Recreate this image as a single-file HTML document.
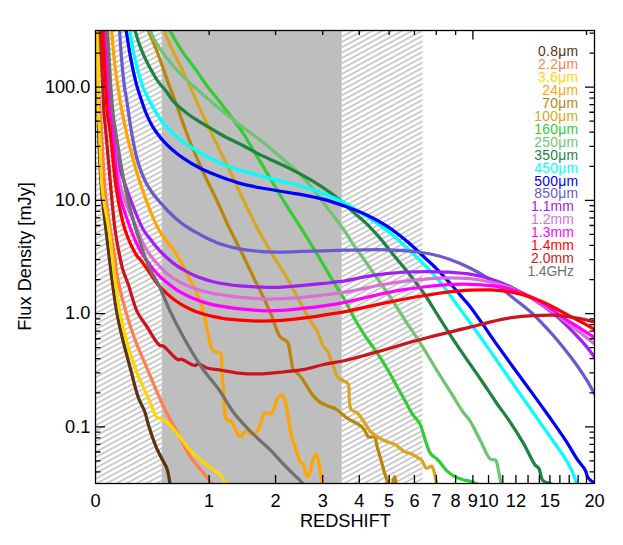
<!DOCTYPE html>
<html><head><meta charset="utf-8"><title>Flux density vs redshift</title>
<style>html,body{margin:0;padding:0;background:#fff}body{width:623px;height:545px;overflow:hidden;font-family:"Liberation Sans",sans-serif}svg{display:block}</style>
</head><body>
<svg width="623" height="545" viewBox="0 0 623 545">
<defs>
<pattern id="h" patternUnits="userSpaceOnUse" width="40" height="4.695" patternTransform="translate(0,4.87) rotate(-28.32)"><line x1="0" y1="2.347" x2="40" y2="2.347" stroke="#b6b6b6" stroke-width="1.25"/></pattern>
<clipPath id="c"><rect x="95.5" y="30.5" width="499.0" height="453.0"/></clipPath>
</defs>
<rect width="623" height="545" fill="#fff"/>
<rect x="95.5" y="30.5" width="66.20" height="453.0" fill="url(#h)"/>
<rect x="341.70" y="30.5" width="80.80" height="453.0" fill="url(#h)"/>
<rect x="161.70" y="30.5" width="180.00" height="453.0" fill="#bebebe"/>
<g clip-path="url(#c)" fill="none" stroke-linejoin="round" stroke-linecap="butt">
<path d="M96.3,25.0 C96.4,26.7 96.4,27.4 96.5,30.0 C96.7,38.6 97.1,67.3 97.5,86.0 C97.9,104.9 98.3,124.9 99.0,143.0 C99.7,159.4 100.3,175.0 101.5,190.0 C102.6,203.9 104.6,218.1 106.0,230.0 C107.1,239.6 108.0,247.2 109.1,256.0 C110.2,265.2 111.3,274.8 112.6,284.2 C113.9,293.6 115.1,303.0 116.8,312.4 C118.5,321.8 120.7,331.2 123.0,340.6 C125.3,350.1 128.0,359.5 130.5,369.0 C133.1,378.5 135.5,389.8 138.3,397.5 C140.3,403.0 142.9,406.5 144.6,411.2 C146.4,416.0 147.1,420.7 148.8,426.0 C150.8,432.4 153.5,440.8 156.2,447.1 C158.5,452.5 161.6,458.0 163.6,461.9 C164.9,464.4 165.9,465.5 166.8,468.2 C168.2,472.2 169.5,480.5 170.0,484.0 C170.2,485.8 170.2,486.7 170.3,488.0" stroke="#5a3310" stroke-width="3.25"/>
<path d="M96.8,25.0 C96.9,26.7 96.9,27.4 97.0,30.0 C97.3,38.6 97.5,68.5 98.3,86.0 C99.0,101.6 100.4,114.2 101.4,130.0 C102.6,148.4 103.4,172.0 105.1,190.0 C106.5,204.7 108.6,218.1 110.4,230.0 C111.8,239.6 113.7,248.7 114.7,256.0 C115.5,261.4 115.6,265.3 116.3,270.0 C117.0,274.7 117.6,278.7 118.8,284.2 C120.5,292.0 123.3,303.0 126.1,312.4 C128.9,321.8 131.9,331.3 135.4,340.6 C139.0,350.1 143.6,360.2 147.3,369.0 C150.5,376.6 153.2,383.3 156.2,390.1 C159.0,396.6 162.0,403.6 164.7,409.1 C166.9,413.5 168.8,416.5 171.0,420.7 C173.6,425.6 176.9,431.6 179.5,436.6 C181.8,441.0 183.4,445.1 185.8,449.2 C188.3,453.5 191.1,457.8 194.2,461.9 C197.4,466.2 201.7,470.6 204.8,474.6 C207.4,477.9 210.1,481.7 211.5,484.0 C212.2,485.2 212.5,486.0 213.0,487.0" stroke="#ff7f50" stroke-width="3.25"/>
<path d="M97.4,25.0 C97.4,26.7 97.5,27.7 97.5,30.0 C97.6,35.6 97.8,48.8 97.9,58.2 C98.0,67.6 98.0,77.0 98.1,86.4 C98.2,95.8 98.2,106.6 98.5,114.6 C98.7,120.5 99.2,125.1 99.5,130.0 C99.7,134.5 99.8,137.3 100.0,143.0 C100.5,153.8 100.7,175.0 102.3,190.0 C103.8,203.9 107.3,218.1 109.0,230.0 C110.4,239.6 111.3,248.7 112.2,256.0 C112.8,261.4 113.2,265.3 113.8,270.0 C114.4,274.7 114.9,278.7 115.7,284.2 C116.8,292.0 118.1,303.0 119.9,312.4 C121.7,321.8 123.9,331.2 126.5,340.6 C129.1,350.1 132.3,360.3 135.5,369.0 C138.3,376.6 141.7,383.5 144.6,390.1 C147.2,396.0 149.9,402.2 152.0,407.0 C153.6,410.6 154.2,414.4 156.2,416.5 C157.9,418.3 160.5,418.5 162.6,419.7 C164.7,420.9 166.7,421.9 168.9,423.9 C172.2,426.8 176.0,432.2 179.5,436.6 C183.1,441.0 186.3,446.3 190.0,450.3 C193.4,453.9 197.0,456.8 200.6,459.8 C204.1,462.7 207.7,465.6 211.1,468.2 C214.2,470.5 217.7,472.3 220.0,474.6 C221.9,476.6 222.9,479.2 224.2,480.9 C225.2,482.2 226.2,482.9 227.0,484.0 C227.8,485.0 228.3,486.0 229.0,487.0" stroke="#ffd700" stroke-width="3.25"/>
<path d="M111.2,25.0 C111.3,26.7 111.4,27.7 111.6,30.0 C112.1,35.6 113.1,48.8 114.1,58.2 C115.1,67.6 116.4,77.0 117.8,86.4 C119.2,95.8 121.1,106.6 122.6,114.6 C123.7,120.5 124.8,125.1 125.9,130.0 C126.9,134.5 127.3,137.4 128.8,143.0 C131.6,153.8 137.3,175.1 142.5,190.0 C147.4,204.0 154.2,221.3 158.9,230.0 C161.4,234.6 163.3,236.8 165.7,240.0 C168.0,243.2 170.7,245.9 173.0,249.2 C175.6,252.8 178.0,256.9 180.4,261.1 C182.9,265.5 185.3,270.2 187.7,274.9 C190.2,279.7 192.8,284.8 195.0,289.5 C197.1,293.9 199.1,298.1 200.6,302.4 C202.1,306.6 203.1,310.9 204.2,315.2 C205.3,319.5 206.1,323.9 207.0,328.1 C207.8,332.1 208.7,336.5 209.4,340.0 C210.0,342.7 210.1,345.2 211.0,347.2 C211.8,348.9 212.8,350.4 214.2,351.4 C215.8,352.5 219.1,351.7 220.5,353.4 C222.6,356.1 221.2,363.4 221.6,369.0 C222.1,375.5 222.9,383.1 223.4,390.1 C223.9,397.1 223.9,406.0 224.6,411.2 C225.0,414.3 225.4,417.0 226.3,418.6 C226.9,419.6 227.6,420.4 228.4,420.7 C229.1,421.0 229.9,420.3 230.6,420.7 C232.0,421.5 233.4,425.6 234.8,428.1 C236.2,430.7 237.6,435.0 239.0,436.1 C239.7,436.6 240.4,436.9 241.1,436.6 C242.2,436.2 243.1,432.8 244.3,431.9 C245.2,431.2 246.3,430.7 247.4,430.9 C248.8,431.2 250.3,434.3 251.7,434.5 C252.8,434.7 253.8,434.0 254.8,433.4 C255.9,432.7 257.1,431.6 258.0,430.2 C259.3,428.2 260.1,424.6 261.2,421.8 C262.2,419.1 262.8,415.1 264.3,413.8 C265.2,413.0 266.4,412.9 267.5,412.9 C268.6,412.9 269.8,414.2 270.7,413.8 C271.9,413.3 272.9,411.0 273.8,409.1 C275.0,406.5 275.7,402.0 277.0,399.6 C277.9,397.8 279.1,395.9 280.2,395.4 C280.9,395.1 281.7,395.1 282.3,395.4 C283.1,395.9 283.8,397.2 284.4,398.6 C285.3,400.7 285.9,403.9 286.5,407.0 C287.3,410.8 287.9,415.5 288.6,419.7 C289.3,423.9 289.9,428.5 290.7,432.3 C291.3,435.4 292.0,438.3 292.8,440.8 C293.5,442.8 294.3,444.2 295.0,446.1 C295.8,448.3 296.4,451.1 297.1,453.5 C297.8,455.7 298.4,458.1 299.2,459.8 C299.8,461.1 300.5,462.3 301.3,463.0 C301.9,463.6 302.8,463.3 303.4,464.0 C304.5,465.4 304.7,470.2 305.5,472.5 C306.1,474.2 306.9,476.7 307.6,476.7 C308.3,476.7 309.1,474.9 309.7,473.5 C310.7,471.2 311.0,467.0 311.8,464.0 C312.5,461.4 313.0,458.2 314.0,456.6 C314.6,455.6 315.5,454.4 316.1,454.5 C317.0,454.7 317.6,457.6 318.2,459.8 C319.1,463.1 319.7,468.4 320.3,472.5 C320.9,476.4 321.6,481.2 322.0,484.0 C322.2,485.7 322.3,486.7 322.5,488.0" stroke="#ffa500" stroke-width="3.25"/>
<path d="M146.2,25.0 C146.8,26.7 147.3,28.0 148.1,30.0 C149.4,33.3 151.7,38.5 153.5,42.8 C155.3,47.1 157.1,51.4 158.7,55.7 C160.3,60.0 161.7,64.2 163.2,68.5 C164.7,72.8 166.2,77.4 167.7,81.4 C169.0,85.0 170.3,88.4 171.5,91.6 C172.6,94.5 173.5,96.8 174.7,100.0 C176.3,104.2 178.2,109.7 180.0,114.6 C181.7,119.4 183.4,124.3 185.2,129.1 C186.9,133.8 188.2,137.4 190.5,143.0 C194.0,151.5 200.4,166.1 204.5,175.0 C207.5,181.4 209.9,186.1 212.5,191.5 C215.1,196.8 217.5,201.8 220.0,207.3 C222.7,213.2 225.5,219.9 228.3,225.9 C231.0,231.6 234.0,237.3 236.6,242.5 C239.0,247.2 240.9,251.0 243.3,256.0 C246.3,262.2 249.8,269.8 253.2,276.7 C256.6,283.6 260.3,290.7 263.5,297.5 C266.5,303.8 269.1,309.7 271.8,316.1 C274.6,322.8 276.7,332.4 280.1,336.8 C282.3,339.6 285.7,339.4 287.4,342.0 C289.5,345.2 289.6,351.0 290.5,355.5 C291.4,360.0 291.7,366.5 293.0,369.0 C293.6,370.1 294.1,370.2 295.0,371.1 C296.5,372.6 299.4,375.0 301.3,377.4 C303.3,379.9 304.7,383.0 306.6,385.9 C308.6,389.0 310.7,392.7 312.9,395.4 C314.9,397.8 316.8,400.0 319.2,401.7 C321.7,403.5 324.8,404.7 327.7,405.9 C330.5,407.1 333.4,407.5 336.1,409.1 C339.2,410.9 342.2,414.4 345.0,416.5 C347.2,418.2 349.2,419.5 351.3,420.7 C353.4,421.9 355.7,422.6 357.7,423.9 C359.9,425.3 362.3,427.1 364.0,429.2 C365.8,431.3 366.6,435.5 368.2,436.6 C369.2,437.3 370.3,437.0 371.4,437.0 C372.5,437.0 373.8,436.0 374.6,436.6 C376.0,437.5 375.8,441.8 376.7,445.0 C377.8,449.2 379.5,454.9 380.9,459.8 C382.3,464.7 383.7,470.2 385.1,474.6 C386.2,478.1 387.4,481.5 388.3,484.0 C388.9,485.6 389.2,487.5 390.0,488.0 C390.6,488.4 391.6,488.4 392.0,488.0 C392.6,487.4 392.2,485.5 392.5,484.0 C392.9,481.9 394.0,476.7 394.6,476.7 C395.2,476.7 395.7,481.9 396.1,484.0 C396.4,485.5 396.7,486.7 397.0,488.0" stroke="#b8860b" stroke-width="3.25"/>
<path d="M162.0,25.0 C162.6,26.7 162.9,27.8 163.8,30.0 C165.5,34.4 169.2,43.1 172.3,49.8 C175.6,57.0 179.7,64.3 183.3,71.9 C187.0,79.8 190.6,88.0 194.3,96.1 C198.0,104.2 201.6,112.4 205.3,120.3 C208.9,128.0 213.7,137.6 216.3,143.0 C217.7,146.0 218.1,146.9 219.6,150.0 C222.5,156.0 228.2,167.4 232.4,176.2 C236.6,185.1 240.7,194.3 244.9,203.1 C249.0,211.6 252.8,219.5 257.3,228.0 C262.2,237.1 268.2,247.4 273.3,256.0 C277.8,263.5 282.1,269.6 286.3,276.7 C290.6,284.1 294.6,291.9 298.8,299.5 C302.9,307.1 307.8,316.9 311.2,322.3 C313.2,325.5 315.0,327.1 316.4,329.6 C317.7,331.9 318.4,334.2 319.5,336.8 C320.8,339.9 322.0,344.6 323.7,347.2 C324.9,349.1 326.7,349.6 327.8,351.4 C329.2,353.6 329.8,356.9 330.9,359.7 C332.0,362.7 333.4,366.1 334.5,369.0 C335.5,371.6 335.6,374.3 337.2,376.4 C339.0,378.7 343.0,380.3 345.0,381.7 C346.3,382.6 347.4,382.5 348.2,383.8 C349.6,386.1 348.8,392.2 349.2,396.4 C349.7,400.6 349.1,406.2 350.9,409.1 C352.4,411.4 355.6,411.5 357.7,413.4 C360.1,415.6 361.9,418.9 364.0,421.8 C366.1,424.8 367.8,428.6 370.3,431.3 C372.7,433.9 375.9,435.8 378.8,437.6 C381.5,439.3 384.4,440.6 387.2,441.8 C390.0,443.0 393.0,443.5 395.7,445.0 C398.6,446.6 401.2,449.7 404.1,451.3 C406.8,452.8 410.2,453.3 412.6,454.5 C414.6,455.5 416.2,456.6 417.8,457.7 C419.3,458.7 420.8,459.4 422.1,460.8 C423.7,462.6 424.5,467.6 426.3,468.2 C427.8,468.7 430.4,465.6 431.6,466.1 C432.7,466.5 433.0,468.4 433.7,470.3 C434.8,473.5 436.2,480.8 436.8,484.0 C437.1,485.7 437.3,486.7 437.5,488.0" stroke="#daa520" stroke-width="3.25"/>
<path d="M167.0,25.0 C167.9,26.7 168.5,28.0 169.6,30.0 C171.1,32.8 173.4,36.9 175.4,40.3 C177.5,43.8 179.2,47.0 181.8,50.8 C185.1,55.8 190.0,61.7 194.1,67.4 C198.5,73.4 202.8,80.2 207.3,86.2 C211.6,91.9 216.1,97.1 220.5,102.7 C224.9,108.4 229.5,114.6 233.7,120.3 C237.6,125.6 241.9,131.5 244.7,135.7 C246.5,138.5 247.1,139.7 249.0,143.0 C253.0,149.8 261.5,163.7 267.7,174.1 C273.9,184.5 280.1,195.3 286.3,205.2 C292.1,214.5 298.0,223.4 303.5,232.1 C308.6,240.3 313.4,248.0 318.2,256.0 C323.0,263.9 327.7,272.1 332.3,279.8 C336.6,287.0 341.1,293.7 345.0,300.6 C348.8,307.2 351.8,314.1 355.4,320.3 C358.7,326.1 362.2,331.5 365.7,336.8 C369.1,341.9 372.6,346.3 376.1,351.4 C379.8,356.9 383.7,363.0 387.3,369.0 C391.0,375.2 394.5,382.1 397.8,388.0 C400.7,393.2 403.6,398.2 406.2,402.8 C408.5,406.9 410.2,410.8 412.6,414.4 C414.9,417.8 418.1,420.3 420.0,423.9 C422.0,427.7 422.6,432.1 424.2,436.6 C426.0,441.8 427.7,449.5 430.5,453.5 C432.6,456.5 435.5,457.3 437.9,459.8 C440.8,462.7 443.4,467.4 446.4,470.3 C449.1,472.9 451.9,475.1 454.8,476.7 C457.5,478.2 460.5,479.0 463.2,479.8 C465.6,480.5 467.8,480.7 470.0,481.3 C472.1,481.9 474.2,482.8 476.0,483.5 C477.5,484.0 478.7,484.5 480.0,485.0" stroke="#32cd32" stroke-width="3.25"/>
<path d="M147.5,25.0 C148.2,26.7 148.8,28.0 149.7,30.0 C151.0,32.8 152.9,36.9 154.8,40.3 C156.7,43.8 158.9,47.1 161.2,50.5 C163.6,54.0 166.3,57.5 168.9,60.8 C171.4,63.9 173.9,66.9 176.6,69.8 C179.3,72.7 182.1,75.4 185.0,78.2 C188.0,81.1 190.4,83.4 194.1,86.8 C199.8,92.0 208.7,99.8 216.1,106.0 C223.4,112.1 230.4,117.6 238.1,123.6 C246.3,130.0 256.0,136.8 263.8,143.0 C270.5,148.4 275.9,153.0 282.2,158.5 C288.9,164.4 296.3,170.2 302.9,177.2 C310.1,184.9 316.8,194.2 323.7,203.1 C330.8,212.3 339.6,223.9 345.0,231.6 C348.5,236.7 350.5,240.5 353.3,244.6 C356.0,248.6 358.5,251.6 361.6,256.0 C365.8,261.9 371.3,269.8 376.1,276.7 C380.9,283.6 385.8,290.4 390.6,297.5 C395.5,304.9 400.4,313.1 405.1,320.3 C409.4,326.8 413.7,332.8 417.6,338.9 C421.3,344.6 424.7,350.2 427.9,355.5 C430.8,360.2 432.9,363.9 436.0,369.0 C440.1,375.7 445.9,384.7 450.6,392.2 C455.0,399.1 459.5,407.1 463.2,412.3 C465.7,415.8 467.7,417.2 470.0,420.8 C473.4,426.0 477.3,434.8 480.8,441.4 C484.0,447.5 486.9,456.4 490.2,459.0 C491.9,460.4 494.3,459.0 495.6,460.3 C497.4,462.0 497.5,466.3 498.3,469.8 C499.3,473.9 500.4,480.2 501.0,483.5 C501.4,485.4 501.5,486.5 501.8,488.0" stroke="#70c470" stroke-width="3.25"/>
<path d="M133.5,25.0 C134.0,26.7 134.3,28.0 134.9,30.0 C135.9,33.3 137.3,38.6 138.8,42.8 C140.3,47.1 142.0,51.4 143.9,55.7 C145.8,60.0 148.0,64.3 150.3,68.5 C152.7,72.8 155.2,77.4 158.0,81.4 C160.6,85.1 163.9,88.3 166.4,91.6 C168.6,94.5 170.1,97.4 172.2,100.0 C174.3,102.5 176.6,104.6 179.0,106.8 C181.5,109.0 184.1,111.1 186.9,113.2 C190.0,115.5 193.6,118.0 197.0,120.2 C200.4,122.4 204.0,124.3 207.4,126.4 C210.8,128.4 214.1,130.5 217.5,132.5 C220.9,134.5 224.5,136.4 228.0,138.2 C231.5,140.0 234.3,141.2 238.5,143.3 C244.7,146.4 253.5,151.4 261.5,155.4 C270.1,159.6 279.7,163.5 288.4,167.9 C296.9,172.2 305.7,176.8 313.3,181.4 C320.1,185.5 326.7,190.0 331.9,193.8 C335.9,196.8 339.0,199.3 342.3,202.1 C345.4,204.8 347.8,207.4 351.2,210.4 C355.4,214.2 361.0,218.3 365.7,222.8 C370.7,227.6 375.5,233.0 380.2,238.4 C385.0,244.0 389.7,250.3 394.3,256.0 C398.7,261.4 402.7,265.8 407.2,271.5 C412.5,278.1 418.6,285.8 423.8,293.3 C429.0,300.7 433.5,308.5 438.3,316.1 C443.1,323.7 447.7,331.2 452.8,338.9 C458.2,347.1 464.6,356.2 470.0,364.0 C474.8,370.9 479.0,376.9 483.5,383.5 C488.0,390.2 492.4,397.1 497.0,403.7 C501.5,410.1 506.1,416.0 510.5,422.6 C515.1,429.5 519.8,437.0 523.9,444.1 C527.8,450.9 531.7,460.4 534.7,464.4 C536.2,466.4 537.6,466.5 538.8,468.4 C540.6,471.2 540.5,478.0 542.8,480.5 C544.5,482.4 547.7,482.7 549.6,483.5 C550.9,484.1 551.9,484.5 553.0,485.0" stroke="#1e8241" stroke-width="3.25"/>
<path d="M128.9,25.0 C129.2,26.7 129.4,27.7 129.8,30.0 C130.8,35.6 132.7,48.9 134.8,58.2 C137.0,67.7 139.7,78.5 142.7,86.4 C144.9,92.4 147.2,96.3 150.0,101.6 C153.2,107.6 157.0,114.9 161.0,120.3 C164.4,125.0 168.1,128.6 172.0,132.4 C175.9,136.2 181.1,140.5 184.5,143.0 C186.6,144.6 187.6,145.0 190.0,146.4 C194.3,149.0 202.1,154.1 208.3,157.4 C214.3,160.6 220.5,163.3 226.7,165.7 C232.7,168.0 238.9,169.8 245.0,171.6 C251.1,173.4 257.2,175.1 263.4,176.7 C269.6,178.3 275.8,179.7 282.2,181.3 C288.9,183.0 296.0,184.5 302.9,186.5 C309.9,188.6 316.8,190.9 323.7,193.6 C330.8,196.4 339.2,200.1 345.0,203.1 C349.2,205.3 351.9,207.2 355.4,209.3 C358.8,211.4 361.7,213.0 365.7,215.6 C371.5,219.4 380.3,225.3 386.5,230.1 C391.9,234.3 396.2,238.2 401.0,242.5 C405.9,246.9 410.9,251.6 415.5,256.0 C419.8,260.2 423.7,263.9 427.9,268.4 C432.6,273.5 437.7,279.1 442.4,285.0 C447.4,291.2 452.2,298.3 456.9,304.7 C461.4,310.8 465.5,316.3 470.0,322.5 C474.8,329.1 479.6,335.8 484.7,343.1 C490.4,351.1 496.4,360.0 502.4,368.6 C508.6,377.5 514.9,386.6 521.2,395.6 C527.5,404.6 534.0,414.0 540.1,422.6 C545.7,430.6 551.5,438.5 556.3,445.5 C560.3,451.3 564.1,456.5 567.1,461.7 C569.8,466.3 572.2,471.1 573.8,475.1 C575.1,478.2 575.7,481.1 576.5,483.5 C577.1,485.2 577.5,486.5 578.0,488.0" stroke="#00ffff" stroke-width="3.25"/>
<path d="M125.3,25.0 C125.6,26.7 125.7,27.7 126.1,30.0 C127.0,35.6 128.9,48.8 130.7,58.2 C132.5,67.6 134.9,78.7 137.0,86.4 C138.5,91.8 140.0,95.8 141.4,100.0 C142.6,103.6 143.6,106.8 144.8,110.0 C146.0,113.1 147.3,116.2 148.7,119.1 C150.0,121.8 151.3,124.3 152.8,126.8 C154.3,129.2 155.8,131.5 157.5,133.8 C159.2,136.1 161.0,138.4 163.0,140.6 C165.0,142.8 167.1,144.9 169.3,147.0 C171.5,149.1 173.9,151.1 176.3,153.0 C178.8,155.0 181.3,156.9 184.0,158.7 C186.7,160.6 189.6,162.3 192.5,164.0 C195.5,165.7 198.6,167.5 201.6,169.0 C204.5,170.4 207.3,171.6 210.2,172.8 C213.2,174.0 216.2,175.2 219.2,176.3 C222.1,177.4 225.1,178.5 228.0,179.5 C230.9,180.5 233.9,181.5 236.8,182.4 C239.6,183.2 241.8,183.8 245.0,184.6 C249.5,185.7 255.7,186.9 261.5,188.0 C268.0,189.2 275.3,190.4 282.2,191.5 C289.1,192.6 296.0,193.5 302.9,194.8 C309.8,196.1 316.8,197.5 323.7,199.4 C330.8,201.3 338.0,203.7 345.0,206.2 C352.0,208.7 358.9,211.3 365.7,214.5 C372.7,217.8 379.7,221.5 386.5,225.9 C393.6,230.5 400.9,236.2 407.2,241.5 C412.9,246.3 418.0,251.3 423.0,256.0 C427.6,260.3 431.8,263.9 436.2,268.4 C441.0,273.2 446.1,278.9 450.7,284.0 C455.1,288.9 459.7,294.4 463.2,298.5 C465.8,301.6 467.5,303.3 470.0,306.5 C473.6,311.1 478.3,317.9 482.5,323.9 C486.9,330.1 491.0,336.4 495.8,343.1 C501.2,350.7 507.3,359.1 513.2,367.3 C519.3,375.7 525.8,384.4 532.0,392.9 C538.2,401.4 544.6,410.2 550.5,418.5 C556.0,426.3 561.6,434.2 566.3,441.4 C570.3,447.6 573.5,453.9 577.0,459.0 C579.8,463.2 583.5,466.8 585.3,470.2 C586.6,472.7 586.7,475.5 587.8,477.3 C588.6,478.7 589.7,479.6 590.8,480.5 C591.9,481.4 593.2,482.2 594.3,482.9 C595.2,483.5 596.1,484.0 597.0,484.5" stroke="#0000ff" stroke-width="3.25"/>
<path d="M119.1,25.0 C119.2,26.7 119.3,27.7 119.5,30.0 C119.9,35.6 120.7,48.8 121.5,58.2 C122.3,67.6 123.4,78.7 124.4,86.4 C125.1,91.8 125.8,94.6 126.7,100.0 C128.0,107.9 129.4,119.6 131.1,129.4 C132.8,139.2 134.4,149.6 137.0,158.7 C139.4,167.1 142.7,176.0 145.8,182.2 C148.0,186.6 150.0,189.6 152.5,193.0 C154.9,196.4 157.7,199.6 160.5,202.8 C163.2,206.0 166.1,209.1 169.0,212.0 C171.9,214.9 175.1,217.9 178.1,220.4 C180.9,222.7 183.6,224.8 186.5,226.7 C189.4,228.7 192.6,230.3 195.7,232.1 C198.9,233.9 202.1,235.8 205.5,237.5 C209.0,239.2 212.6,241.0 216.2,242.4 C219.6,243.7 223.1,244.7 226.5,245.7 C229.9,246.7 233.3,247.6 236.8,248.3 C240.4,249.1 244.1,249.7 248.0,250.2 C252.3,250.8 256.5,251.3 261.5,251.6 C267.7,252.0 275.3,252.0 282.2,252.0 C289.1,252.0 296.0,251.6 302.9,251.4 C309.8,251.2 316.7,251.0 323.7,250.8 C330.8,250.6 338.0,250.4 345.0,250.2 C351.9,250.0 358.8,249.9 365.7,249.8 C372.6,249.7 379.6,249.6 386.5,249.8 C393.4,250.0 400.3,250.2 407.2,250.8 C414.1,251.4 422.1,252.5 427.9,253.5 C432.2,254.3 435.4,255.0 439.0,256.0 C442.4,256.9 444.9,257.7 448.7,259.1 C454.5,261.2 463.0,264.6 470.0,268.0 C477.1,271.5 484.1,275.5 490.9,280.1 C498.0,285.0 506.3,292.5 511.7,296.8 C515.1,299.5 517.1,300.9 520.0,303.3 C523.4,306.0 527.4,309.1 531.0,312.3 C534.7,315.7 538.4,319.4 542.0,323.2 C545.7,327.1 549.5,331.1 553.1,335.3 C556.8,339.6 560.5,344.0 564.1,348.5 C567.8,353.1 571.5,357.8 575.1,362.8 C578.9,368.0 582.8,373.9 586.1,379.2 C589.0,383.9 591.8,389.0 594.0,392.8 C595.6,395.6 596.7,397.6 598.0,400.0" stroke="#6a5acd" stroke-width="3.25"/>
<path d="M106.0,25.0 C106.1,26.7 106.1,27.4 106.2,30.0 C106.6,38.6 107.8,68.8 108.9,86.4 C109.9,101.9 110.9,116.9 112.5,130.0 C113.9,141.0 115.1,150.1 117.5,160.0 C119.9,170.1 123.1,179.4 127.0,190.0 C131.5,202.5 138.6,221.3 143.5,230.0 C146.2,234.7 148.5,236.8 151.0,240.0 C153.4,243.1 155.6,246.2 158.3,249.2 C161.1,252.3 164.4,255.5 167.5,258.3 C170.5,261.0 173.6,263.5 176.7,265.7 C179.7,267.8 182.8,269.5 185.9,271.2 C188.9,272.9 191.9,274.5 195.0,275.8 C198.0,277.1 201.1,278.1 204.2,279.1 C207.2,280.1 210.3,280.9 213.4,281.7 C216.5,282.5 219.5,283.1 222.6,283.7 C225.6,284.2 228.7,284.6 231.7,285.0 C234.5,285.4 236.6,285.6 240.0,285.9 C245.5,286.4 254.4,286.9 261.5,287.1 C268.5,287.3 275.3,287.4 282.2,287.1 C289.1,286.8 296.0,286.0 302.9,285.4 C309.8,284.8 316.7,284.1 323.7,283.4 C330.8,282.6 338.0,282.0 345.0,280.9 C352.0,279.8 358.8,277.9 365.7,276.7 C372.6,275.5 379.6,274.4 386.5,273.6 C393.4,272.8 400.3,272.3 407.2,272.0 C414.1,271.7 421.0,271.5 427.9,271.5 C434.8,271.5 441.7,271.8 448.7,272.2 C455.8,272.7 463.0,273.1 470.0,274.2 C477.0,275.3 484.0,276.8 490.9,279.0 C497.9,281.2 504.9,284.1 511.7,287.4 C518.8,290.8 525.7,294.6 532.6,298.9 C539.7,303.3 547.8,309.0 553.5,313.5 C557.7,316.9 560.6,319.7 564.1,323.0 C567.8,326.5 571.5,330.2 575.1,334.0 C578.8,337.9 582.8,342.1 586.1,346.1 C589.0,349.6 591.8,353.6 594.0,356.5 C595.6,358.6 596.7,360.2 598.0,362.0" stroke="#a020f0" stroke-width="3.25"/>
<path d="M104.8,25.0 C104.9,26.7 104.9,27.4 105.0,30.0 C105.4,38.6 106.6,68.8 108.0,86.4 C109.2,101.9 110.5,114.3 112.5,130.0 C114.8,148.4 116.6,172.3 121.4,190.0 C125.5,205.0 133.7,220.4 137.6,230.0 C139.8,235.5 140.8,238.8 142.8,242.8 C144.7,246.7 146.7,250.2 149.2,253.8 C151.8,257.6 155.2,261.4 158.3,264.8 C161.3,268.1 164.3,271.2 167.5,273.9 C170.5,276.4 173.6,278.5 176.7,280.4 C179.7,282.2 182.8,283.6 185.9,285.0 C188.9,286.3 191.9,287.5 195.0,288.6 C198.0,289.7 201.1,290.6 204.2,291.4 C207.3,292.2 210.3,293.0 213.4,293.6 C216.5,294.2 219.5,294.5 222.6,295.0 C225.6,295.4 228.7,295.9 231.7,296.3 C234.5,296.7 236.6,296.9 240.0,297.2 C245.5,297.7 254.4,298.7 261.5,298.9 C268.5,299.1 275.3,299.0 282.2,298.7 C289.1,298.4 296.0,297.9 302.9,297.3 C309.8,296.7 316.7,295.8 323.7,295.0 C330.8,294.1 338.0,293.4 345.0,292.2 C352.0,291.1 358.8,289.5 365.7,288.1 C372.6,286.7 379.6,285.2 386.5,284.0 C393.4,282.8 400.3,281.8 407.2,280.9 C414.1,280.0 421.0,279.3 427.9,278.8 C434.8,278.3 441.7,277.8 448.7,277.8 C455.8,277.8 463.0,278.0 470.0,278.7 C477.0,279.4 484.0,280.6 490.9,282.2 C497.9,283.8 504.9,285.8 511.7,288.4 C518.8,291.1 525.8,294.5 532.6,298.4 C539.7,302.5 546.6,307.5 553.5,312.4 C560.5,317.4 567.5,322.9 574.3,328.1 C581.0,333.2 589.9,340.1 594.0,343.5 C595.9,345.0 596.7,345.8 598.0,347.0" stroke="#da70d6" stroke-width="3.25"/>
<path d="M105.2,25.0 C105.3,26.7 105.3,27.7 105.4,30.0 C105.6,35.6 106.2,48.8 106.6,58.2 C107.0,67.6 107.4,77.0 108.0,86.4 C108.6,95.8 109.1,106.6 110.1,114.6 C110.8,120.5 111.8,123.2 112.7,130.0 C114.5,143.4 115.0,172.2 118.6,190.0 C121.6,204.8 126.9,219.0 131.0,230.0 C134.0,237.9 136.7,244.1 140.0,250.1 C142.9,255.3 146.0,259.6 149.2,263.9 C152.1,267.9 155.1,271.6 158.3,274.9 C161.2,278.0 164.4,280.6 167.5,283.1 C170.5,285.5 173.6,287.9 176.7,289.9 C179.7,291.8 182.8,293.5 185.9,295.0 C188.9,296.5 191.9,297.9 195.0,299.1 C198.0,300.3 201.1,301.4 204.2,302.4 C207.2,303.3 210.3,304.1 213.4,304.8 C216.5,305.5 219.5,305.9 222.6,306.4 C225.6,306.9 228.7,307.5 231.7,307.9 C234.5,308.3 236.6,308.5 240.0,308.8 C245.5,309.3 254.4,310.5 261.5,310.7 C268.5,310.9 275.3,310.7 282.2,310.3 C289.1,309.9 296.0,309.1 302.9,308.4 C309.8,307.6 316.7,306.8 323.7,305.8 C330.8,304.8 338.0,303.7 345.0,302.3 C352.0,300.9 358.8,299.1 365.7,297.5 C372.6,295.9 379.6,294.3 386.5,292.9 C393.4,291.5 400.3,290.3 407.2,289.2 C414.1,288.1 421.0,287.3 427.9,286.5 C434.8,285.7 441.7,285.0 448.7,284.6 C455.8,284.2 462.9,284.1 470.0,284.3 C477.0,284.5 484.0,284.8 490.9,285.7 C497.9,286.6 504.9,287.5 511.7,289.5 C518.8,291.5 525.8,294.4 532.6,297.8 C539.7,301.3 547.8,306.4 553.5,310.3 C557.7,313.2 560.5,315.9 564.1,318.4 C567.7,320.9 571.4,322.9 575.1,325.2 C578.8,327.5 582.7,330.0 586.1,332.2 C589.0,334.1 592.0,336.0 594.2,337.4 C595.7,338.4 596.7,339.0 598.0,339.8" stroke="#ff00ff" stroke-width="3.25"/>
<path d="M102.7,25.0 C102.8,26.7 102.8,27.7 102.9,30.0 C103.1,35.6 103.7,48.8 104.1,58.2 C104.6,67.6 105.0,77.0 105.6,86.4 C106.2,95.8 106.6,106.6 107.5,114.6 C108.2,120.5 109.0,123.2 109.9,130.0 C111.7,143.4 113.6,172.1 116.5,190.0 C118.9,204.7 121.2,218.3 125.1,230.0 C128.4,239.8 134.1,251.5 137.0,256.0 C138.2,257.8 138.8,257.8 140.0,259.3 C142.3,262.1 146.2,267.8 149.2,272.1 C152.3,276.4 155.1,281.2 158.3,285.0 C161.2,288.4 164.4,291.3 167.5,294.1 C170.5,296.8 173.6,299.3 176.7,301.5 C179.7,303.6 182.8,305.4 185.9,307.0 C188.9,308.6 191.9,310.0 195.0,311.2 C198.0,312.4 201.1,313.4 204.2,314.3 C207.3,315.2 210.3,316.0 213.4,316.7 C216.5,317.4 219.5,317.8 222.6,318.3 C225.6,318.7 228.7,319.1 231.7,319.4 C234.5,319.7 236.6,320.0 240.0,320.2 C245.5,320.6 254.4,321.1 261.5,321.1 C268.5,321.1 275.3,320.8 282.2,320.3 C289.1,319.8 296.0,319.1 302.9,318.2 C309.8,317.3 316.7,316.2 323.7,315.1 C330.8,314.0 338.0,312.9 345.0,311.6 C352.0,310.3 358.8,308.7 365.7,307.2 C372.6,305.7 379.6,304.1 386.5,302.6 C393.4,301.2 400.3,299.8 407.2,298.5 C414.1,297.2 421.0,296.1 427.9,295.0 C434.8,293.9 441.7,292.7 448.7,291.9 C455.7,291.1 462.9,290.4 470.0,290.1 C477.0,289.8 484.0,289.6 490.9,289.9 C497.9,290.2 504.8,290.9 511.7,292.2 C518.7,293.5 525.7,295.4 532.6,297.8 C539.7,300.3 547.8,304.3 553.5,307.2 C557.7,309.3 560.5,311.1 564.1,313.0 C567.7,314.9 571.4,316.9 575.1,318.8 C578.8,320.8 582.7,322.8 586.1,324.7 C589.0,326.3 592.0,328.0 594.2,329.3 C595.7,330.2 596.7,330.8 598.0,331.5" stroke="#ff0000" stroke-width="3.25"/>
<path d="M100.0,25.0 C100.1,26.7 100.1,27.7 100.2,30.0 C100.4,35.6 101.0,48.8 101.4,58.2 C101.8,67.6 102.3,77.0 102.7,86.4 C103.2,95.8 103.5,106.6 104.1,114.6 C104.6,120.5 105.0,123.2 105.7,130.0 C107.0,143.4 109.3,172.0 111.0,190.0 C112.4,204.7 113.4,218.1 115.1,230.0 C116.4,239.6 118.2,248.7 119.7,256.0 C120.8,261.4 121.5,265.4 122.9,270.0 C124.3,274.8 126.2,278.6 128.2,284.2 C130.9,292.0 133.8,304.8 137.5,312.4 C140.3,318.1 143.5,321.5 146.8,326.5 C150.6,332.3 155.8,342.6 159.3,345.1 C160.8,346.2 161.8,345.3 163.4,346.2 C166.9,348.2 174.7,358.7 177.9,359.7 C179.2,360.1 179.6,359.0 181.0,359.2 C184.0,359.6 191.3,365.4 194.5,365.5 C196.3,365.5 197.0,363.7 198.6,363.8 C200.9,363.9 203.8,367.0 207.0,368.0 C210.8,369.2 215.1,369.2 220.0,370.0 C226.2,371.0 234.0,372.8 241.1,373.4 C248.1,374.0 255.2,374.0 262.2,373.8 C269.2,373.6 276.3,372.7 283.3,372.0 C290.4,371.2 297.6,370.6 304.5,369.3 C311.1,368.1 317.1,365.9 323.7,364.5 C330.6,363.0 338.0,362.1 345.0,360.5 C352.0,358.9 358.8,357.0 365.7,355.1 C372.6,353.2 379.6,351.3 386.5,349.3 C393.4,347.3 400.3,345.1 407.2,343.1 C414.1,341.1 421.0,339.3 427.9,337.5 C434.8,335.7 441.7,334.0 448.7,332.3 C455.8,330.6 462.9,329.0 470.0,327.2 C477.0,325.5 483.9,323.4 490.9,321.8 C497.8,320.2 504.7,318.6 511.7,317.6 C518.6,316.6 525.6,316.0 532.6,315.6 C539.6,315.2 546.6,314.8 553.5,315.1 C560.5,315.4 567.5,316.5 574.3,317.6 C581.0,318.7 590.2,320.8 594.2,321.8 C596.0,322.2 596.7,322.5 598.0,322.8" stroke="#cb141c" stroke-width="3.25"/>
<path d="M107.1,25.0 C107.2,26.7 107.3,27.7 107.4,30.0 C107.7,35.6 108.5,48.8 109.1,58.2 C109.7,67.6 110.1,77.0 110.8,86.4 C111.5,95.8 112.3,106.6 113.2,114.6 C113.9,120.5 114.3,123.2 115.4,130.0 C117.5,143.5 121.8,172.1 125.7,190.0 C128.9,204.8 133.5,221.1 136.1,230.0 C137.4,234.5 138.1,236.2 139.4,240.0 C141.1,245.2 143.4,252.8 145.5,258.3 C147.3,263.0 148.9,267.0 151.0,271.2 C153.2,275.5 156.1,279.7 158.3,284.0 C160.4,288.2 162.0,292.6 163.9,296.9 C165.7,301.2 167.4,305.3 169.4,309.7 C171.6,314.5 174.2,319.4 176.7,324.4 C179.3,329.5 181.6,334.1 185.0,340.0 C189.7,348.2 196.7,360.1 202.8,369.0 C208.4,377.1 214.9,383.9 220.0,391.2 C224.7,397.9 228.3,405.2 232.7,411.2 C236.7,416.7 241.0,421.3 245.3,426.0 C249.4,430.5 253.7,434.6 258.0,438.7 C262.2,442.7 266.6,446.2 270.7,450.3 C275.0,454.6 279.2,459.8 283.3,464.0 C286.9,467.8 290.5,471.2 293.9,474.6 C297.1,477.8 301.3,481.7 303.4,484.0 C304.6,485.2 305.1,486.0 306.0,487.0" stroke="#707070" stroke-width="3.25"/>
</g>
<g stroke="#000" stroke-width="1.3" fill="none" stroke-linecap="butt">
<rect x="95.5" y="30.5" width="499.0" height="453.0"/>
<path d="M209.11,483.5v-8.5M275.56,483.5v-8.5M322.71,483.5v-8.5M359.29,483.5v-8.5M389.17,483.5v-8.5M414.44,483.5v-8.5M436.32,483.5v-8.5M455.63,483.5v-8.5M472.90,483.5v-8.5M488.52,483.5v-8.5M502.78,483.5v-8.5M515.90,483.5v-8.5M528.04,483.5v-8.5M539.35,483.5v-8.5M549.93,483.5v-8.5M559.87,483.5v-8.5M569.23,483.5v-8.5M578.10,483.5v-8.5M586.50,483.5v-8.5M209.11,30.5v4.5M275.56,30.5v4.5M322.71,30.5v4.5M359.29,30.5v4.5M389.17,30.5v4.5M414.44,30.5v4.5M436.32,30.5v4.5M455.63,30.5v4.5M586.50,30.5v4.5M472.90,30.5v9.0M95.5,471.94h5M594.5,471.94h-5M95.5,460.97h5M594.5,460.97h-5M95.5,452.00h5M594.5,452.00h-5M95.5,444.42h5M594.5,444.42h-5M95.5,437.85h5M594.5,437.85h-5M95.5,432.06h5M594.5,432.06h-5M95.5,426.88h9.5M594.5,426.88h-9.5M95.5,392.78h5M594.5,392.78h-5M95.5,372.84h5M594.5,372.84h-5M95.5,358.69h5M594.5,358.69h-5M95.5,347.72h5M594.5,347.72h-5M95.5,338.75h5M594.5,338.75h-5M95.5,331.17h5M594.5,331.17h-5M95.5,324.60h5M594.5,324.60h-5M95.5,318.81h5M594.5,318.81h-5M95.5,313.62h9.5M594.5,313.62h-9.5M95.5,279.53h5M594.5,279.53h-5M95.5,259.59h5M594.5,259.59h-5M95.5,245.44h5M594.5,245.44h-5M95.5,234.47h5M594.5,234.47h-5M95.5,225.50h5M594.5,225.50h-5M95.5,217.92h5M594.5,217.92h-5M95.5,211.35h5M594.5,211.35h-5M95.5,205.56h5M594.5,205.56h-5M95.5,200.38h9.5M594.5,200.38h-9.5M95.5,166.28h5M594.5,166.28h-5M95.5,146.34h5M594.5,146.34h-5M95.5,132.19h5M594.5,132.19h-5M95.5,121.22h5M594.5,121.22h-5M95.5,112.25h5M594.5,112.25h-5M95.5,104.67h5M594.5,104.67h-5M95.5,98.10h5M594.5,98.10h-5M95.5,92.31h5M594.5,92.31h-5M95.5,87.12h9.5M594.5,87.12h-9.5M95.5,53.03h5M594.5,53.03h-5M95.5,33.09h5M594.5,33.09h-5"/>
</g>
<g font-family="Liberation Sans, sans-serif" font-size="18.2" fill="#000">
<text x="90.4" y="92.83" text-anchor="end">100.0</text>
<text x="90.4" y="206.07" text-anchor="end">10.0</text>
<text x="90.4" y="319.32" text-anchor="end">1.0</text>
<text x="90.4" y="432.57" text-anchor="end">0.1</text>
<text x="95.50" y="507.2" text-anchor="middle">0</text>
<text x="209.11" y="507.2" text-anchor="middle">1</text>
<text x="275.56" y="507.2" text-anchor="middle">2</text>
<text x="322.71" y="507.2" text-anchor="middle">3</text>
<text x="359.29" y="507.2" text-anchor="middle">4</text>
<text x="389.17" y="507.2" text-anchor="middle">5</text>
<text x="414.44" y="507.2" text-anchor="middle">6</text>
<text x="436.32" y="507.2" text-anchor="middle">7</text>
<text x="455.63" y="507.2" text-anchor="middle">8</text>
<text x="472.90" y="507.2" text-anchor="middle">9</text>
<text x="488.52" y="507.2" text-anchor="middle">10</text>
<text x="515.90" y="507.2" text-anchor="middle">12</text>
<text x="549.93" y="507.2" text-anchor="middle">15</text>
<text x="594.50" y="507.2" text-anchor="middle">20</text>
<text x="345.40" y="526.8" text-anchor="middle">REDSHIFT</text>
<text transform="translate(31.1,256.50) rotate(-90)" text-anchor="middle">Flux Density [mJy]</text>
</g>
<g font-family="Liberation Sans, sans-serif" font-size="13.9" text-anchor="end" letter-spacing="0.25">
<text x="578.4" y="56.00" fill="#5a3310" letter-spacing="0.3">0.8μm</text>
<text x="578.4" y="68.95" fill="#ff7f50" letter-spacing="0.3">2.2μm</text>
<text x="578.4" y="81.90" fill="#ffd700" letter-spacing="0.3">3.6μm</text>
<text x="578.4" y="94.85" fill="#ffa500" letter-spacing="0.3">24μm</text>
<text x="578.4" y="107.80" fill="#b8860b" letter-spacing="0.3">70μm</text>
<text x="578.4" y="120.75" fill="#daa520" letter-spacing="0.3">100μm</text>
<text x="578.4" y="133.70" fill="#32cd32" letter-spacing="0.3">160μm</text>
<text x="578.4" y="146.65" fill="#70c470" letter-spacing="0.3">250μm</text>
<text x="578.4" y="159.60" fill="#1e8241" letter-spacing="0.3">350μm</text>
<text x="578.4" y="172.55" fill="#00ffff" letter-spacing="0.3">450μm</text>
<text x="578.4" y="185.50" fill="#0000ff" letter-spacing="0.3">500μm</text>
<text x="578.4" y="198.45" fill="#6a5acd" letter-spacing="0.3">850μm</text>
<text x="573.9" y="211.40" fill="#a020f0" letter-spacing="0.1">1.1mm</text>
<text x="573.9" y="224.35" fill="#da70d6" letter-spacing="0.1">1.2mm</text>
<text x="573.9" y="237.30" fill="#ff00ff" letter-spacing="0.1">1.3mm</text>
<text x="573.9" y="250.25" fill="#ff0000" letter-spacing="0.1">1.4mm</text>
<text x="573.9" y="263.20" fill="#cb141c" letter-spacing="0.1">2.0mm</text>
<text x="573.9" y="276.15" fill="#707070" letter-spacing="-0.1">1.4GHz</text>
</g>
</svg>
</body></html>
